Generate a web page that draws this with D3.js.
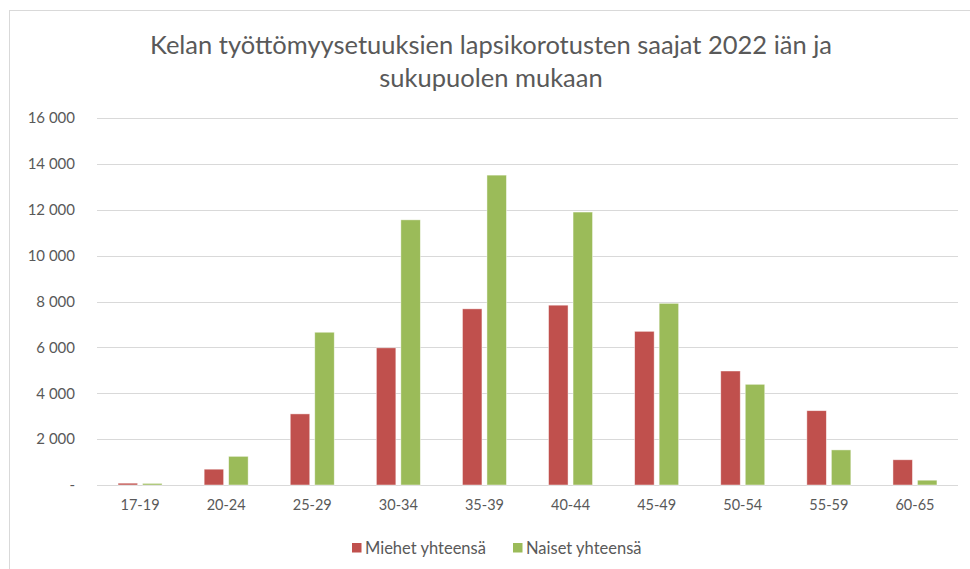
<!DOCTYPE html>
<html>
<head>
<meta charset="utf-8">
<script src="https://cdnjs.cloudflare.com/ajax/libs/d3/7.8.5/d3.min.js"></script>
<style>
  body { margin: 0; background: #fff; }
  svg text { font-family: Lato, "Open Sans", sans-serif; }
</style>
</head>
<body>
<svg id="chart" width="970" height="569"></svg>
<script>
// age groups and the two series
var ageGroups = ["17-19", "20-24", "25-29", "30-34", "35-39", "40-44", "45-49", "50-54", "55-59", "60-65"];
var miehet = [80, 690, 3100, 5980, 7680, 7840, 6700, 4970, 3240, 1100];
var naiset = [70, 1250, 6660, 11560, 13510, 11900, 7920, 4390, 1530, 210];
var seriesNames = ["Miehet yhteensä", "Naiset yhteensä"];
var seriesColors = ["#C0504D", "#9BBB59"];
var yTicks = [0, 2000, 4000, 6000, 8000, 10000, 12000, 14000, 16000];

var svg = d3.select("#chart");
var margin = { left: 97, right: 12, top: 118, bottom: 84 };
var W = 970, H = 569;

// chart area frame
svg.append("rect")
  .attr("x", 9.5).attr("y", 10.5)
  .attr("width", W + 10).attr("height", H + 10)
  .attr("fill", "#fff").attr("stroke", "#d9d9d9");

// title
var title = svg.append("text")
  .attr("text-anchor", "middle")
  .attr("fill", "#595959")
  .style("font-size", "25.5px");
title.append("tspan").attr("x", 491).attr("y", 54).text("Kelan työttömyysetuuksien lapsikorotusten saajat 2022 iän ja");
title.append("tspan").attr("x", 491).attr("y", 87).text("sukupuolen mukaan");

var x = d3.scaleBand()
  .domain(ageGroups)
  .range([margin.left, W - margin.right]);

var y = d3.scaleLinear()
  .domain([0, 16000])
  .range([H - margin.bottom, margin.top]);

var fmt = function (d) {
  return d === 0 ? "-" : d3.format(",")(d).replace(/,/g, " ");
};

// gridlines
svg.append("g")
  .selectAll("line")
  .data(yTicks)
  .join("line")
  .attr("x1", margin.left).attr("x2", W - margin.right)
  .attr("y1", function (d) { return Math.round(y(d)) + 0.5; })
  .attr("y2", function (d) { return Math.round(y(d)) + 0.5; })
  .attr("stroke", "#d9d9d9")
  .attr("stroke-width", 1);

// y axis labels
var yAxis = d3.axisLeft(y).tickValues(yTicks).tickFormat(fmt).tickSize(0).tickPadding(22);
var gy = svg.append("g")
  .attr("transform", "translate(" + margin.left + ",0)")
  .call(yAxis);
gy.select(".domain").remove();
gy.selectAll("text").attr("fill", "#595959").style("font-size", "15px")
  .style("font-family", "Lato, 'Open Sans', sans-serif");

// x axis labels
var xAxis = d3.axisBottom(x).tickSize(0).tickPadding(15);
var gx = svg.append("g")
  .attr("transform", "translate(0," + (H - margin.bottom) + ")")
  .call(xAxis);
gx.select(".domain").remove();
gx.selectAll("text").attr("fill", "#595959").style("font-size", "14.5px")
  .style("font-family", "Lato, 'Open Sans', sans-serif");

// bars
var barW = 19.5, gap = 5;
var sub = d3.scaleOrdinal().domain([0, 1]).range([-(barW + gap / 2), gap / 2]);
[miehet, naiset].forEach(function (vals, si) {
  svg.append("g")
    .selectAll("rect")
    .data(vals)
    .join("rect")
    .attr("x", function (d, i) { return x(ageGroups[i]) + x.bandwidth() / 2 + sub(si); })
    .attr("y", function (d) { return y(d); })
    .attr("width", barW)
    .attr("height", function (d) { return y(0) - y(d); })
    .attr("fill", seriesColors[si])
    .attr("stroke", "#fff")
    .attr("stroke-opacity", 0.6)
    .attr("stroke-width", 0.75);
});

// legend
var legendX = [352, 513];
var lg = svg.append("g");
seriesNames.forEach(function (name, i) {
  lg.append("rect")
    .attr("x", legendX[i]).attr("y", 543)
    .attr("width", 9.5).attr("height", 9.5)
    .attr("fill", seriesColors[i]);
  lg.append("text")
    .attr("x", legendX[i] + 13).attr("y", 554)
    .attr("fill", "#595959")
    .style("font-size", "16.5px")
    .text(name);
});
</script>
</body>
</html>
